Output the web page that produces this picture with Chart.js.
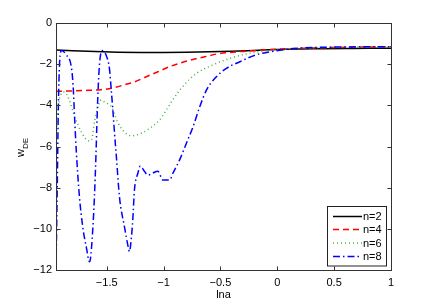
<!DOCTYPE html>
<html>
<head>
<meta charset="utf-8">
<script src="https://cdn.jsdelivr.net/npm/chart.js@4/dist/chart.umd.min.js"></script>
<style>
html,body{margin:0;padding:0;background:#fff;}
#wrap{width:432px;height:305px;position:relative;}
</style>
</head>
<body>
<div id="wrap"><canvas id="c" width="432" height="305"></canvas></div>
<script>
// ---- data ----
const seriesLabels = ['n=2', 'n=4', 'n=6', 'n=8'];
const xTickValues = [-1.5, -1, -0.5, 0, 0.5, 1];
const yTickValues = [-12, -10, -8, -6, -4, -2, 0];
const xMin = -1.946, xMax = 1, yMin = -12, yMax = 0;

const n2X = [-1.946,-1.8,-1.6,-1.4,-1.2,-1.0,-0.8,-0.6,-0.4,-0.2,0,0.2,0.4,0.6,0.8,1.0];
const n2Y = [-1.31,-1.35,-1.39,-1.42,-1.43,-1.43,-1.42,-1.40,-1.37,-1.33,-1.29,-1.26,-1.25,-1.24,-1.23,-1.23];

const n4X = [-1.946,-1.7,-1.55,-1.45,-1.33,-1.256,-1.152,-1.05,-0.947,-0.844,-0.742,-0.638,-0.535,-0.418,-0.303,-0.1,0.2,0.5,1.0];
const n4Y = [-3.32,-3.28,-3.24,-3.16,-2.98,-2.86,-2.61,-2.37,-2.12,-1.93,-1.77,-1.64,-1.51,-1.43,-1.38,-1.30,-1.23,-1.19,-1.15];

const n6X = [-1.946,-1.93,-1.905,-1.875,-1.829,-1.785,-1.723,-1.661,-1.635,-1.608,-1.573,-1.547,-1.52,-1.458,-1.405,-1.344,-1.282,-1.194,-1.123,-1.035,-0.976,-0.920,-0.832,-0.711,-0.568,-0.418,-0.241,-0.153,0,0.3,0.6,1.0];
const n6Y = [-5.8,-4.3,-3.5,-3.35,-3.74,-4.5,-5.3,-5.72,-5.7,-4.8,-4.0,-3.74,-3.84,-4.08,-4.8,-5.3,-5.48,-5.35,-5.12,-4.71,-4.23,-3.74,-3.09,-2.45,-2.04,-1.72,-1.47,-1.39,-1.3,-1.21,-1.17,-1.15];

const n8X = [-1.946,-1.935,-1.925,-1.915,-1.905,-1.899,-1.855,-1.811,-1.796,-1.782,-1.767,-1.740,-1.711,-1.679,-1.652,-1.644,-1.623,-1.608,-1.595,-1.585,-1.574,-1.562,-1.540,-1.505,-1.476,-1.461,-1.447,-1.432,-1.415,-1.388,-1.344,-1.310,-1.300,-1.290,-1.271,-1.256,-1.226,-1.205,-1.175,-1.138,-1.100,-1.050,-1.006,-0.947,-0.918,-0.859,-0.800,-0.741,-0.682,-0.623,-0.535,-0.447,-0.329,-0.189,-0.012,0.19,0.5,1.0];
const n8Y = [-12,-8,-4,-2,-1.4,-1.33,-1.55,-2.14,-3.0,-4.65,-6.27,-8.44,-9.9,-10.9,-11.6,-11.5,-10.06,-8.44,-6.5,-4.65,-3.03,-1.9,-1.34,-1.57,-2.22,-3.19,-4.16,-5.3,-6.5,-8.44,-9.9,-10.9,-11.1,-10.8,-9.57,-8.1,-7.3,-6.95,-7.15,-7.39,-7.3,-7.2,-7.63,-7.63,-7.3,-6.65,-5.85,-5.04,-4.07,-3.26,-2.61,-2.2,-1.88,-1.55,-1.35,-1.22,-1.17,-1.15];

const seriesX = [n2X, n4X, n6X, n8X];
const seriesY = [n2Y, n4Y, n6Y, n8Y];
const seriesColors = ['#000000', '#ff0000', '#44b044', '#0000ff'];
const seriesDash = [[], [6, 4], [1, 3], [7, 3, 1.5, 3]];

const toPts = (xs, ys) => xs.map((x, i) => ({x: x, y: ys[i]}));
const fmt = v => String(v).replace('-', '\u2212');

const datasets = seriesLabels.map((lab, i) => ({
  label: lab,
  data: toPts(seriesX[i], seriesY[i]),
  borderColor: seriesColors[i],
  backgroundColor: seriesColors[i],
  borderWidth: 1.5,
  borderDash: seriesDash[i],
  pointRadius: 0,
  fill: false,
  cubicInterpolationMode: 'monotone',
  order: 3 - i
}));

const FONT = '"Liberation Sans", Arial, Helvetica, sans-serif';

const framePlugin = {
  id: 'frame',
  afterDraw(chart) {
    const ctx = chart.ctx;
    const a = chart.chartArea;
    const xs = chart.scales.x, ys = chart.scales.y;
    ctx.save();
    ctx.strokeStyle = '#333';
    ctx.lineWidth = 1;
    const L = Math.round(a.left) + 0.5, R = Math.round(a.right) + 0.5;
    const T = Math.round(a.top) + 0.5, B = Math.round(a.bottom) + 0.5;
    ctx.strokeRect(L, T, R - L, B - T);
    ctx.beginPath();
    const tl = 4;
    xTickValues.forEach(v => {
      const px = Math.round(xs.getPixelForValue(v)) + 0.5;
      ctx.moveTo(px, B); ctx.lineTo(px, B - tl);
      ctx.moveTo(px, T); ctx.lineTo(px, T + tl);
    });
    yTickValues.forEach(v => {
      const py = Math.round(ys.getPixelForValue(v)) + 0.5;
      ctx.moveTo(L, py); ctx.lineTo(L + tl, py);
      ctx.moveTo(R, py); ctx.lineTo(R - tl, py);
    });
    ctx.stroke();

    // legend box
    const lx = 327.5, ly = 206.5, lw = 59, lh = 59.5;
    ctx.fillStyle = '#fff';
    ctx.fillRect(lx, ly, lw, lh);
    ctx.strokeStyle = '#222';
    ctx.strokeRect(lx, ly, lw, lh);
    const rows = [216.5, 229.5, 243, 256.5];
    chart.data.datasets.forEach((ds, i) => {
      const y = rows[i];
      ctx.save();
      ctx.strokeStyle = ds.borderColor;
      ctx.lineWidth = 1.5;
      ctx.setLineDash(ds.borderDash);
      ctx.beginPath();
      ctx.moveTo(333, y); ctx.lineTo(362, y);
      ctx.stroke();
      ctx.restore();
      ctx.fillStyle = '#000';
      ctx.font = '11px ' + FONT;
      ctx.textAlign = 'left';
      ctx.textBaseline = 'middle';
      ctx.fillText(ds.label, 363, y + 0.5);
    });

    // axis titles
    ctx.fillStyle = '#000';
    ctx.font = '11px ' + FONT;
    ctx.textAlign = 'center';
    ctx.textBaseline = 'alphabetic';
    ctx.fillText('lna', (a.left + a.right) / 2, 298);

    ctx.save();
    ctx.translate(24, 157);
    ctx.rotate(-Math.PI / 2);
    ctx.textAlign = 'left';
    ctx.font = '11px ' + FONT;
    ctx.fillText('w', 0, 0);
    const ww = ctx.measureText('w').width;
    ctx.font = '8px ' + FONT;
    ctx.fillText('DE', ww, 3.5);
    ctx.restore();
    ctx.restore();
  }
};

new Chart(document.getElementById('c'), {
  type: 'line',
  data: { datasets: datasets },
  options: {
    responsive: false,
    animation: false,
    layout: { padding: { left: 0, right: 41, top: 23, bottom: 0 } },
    plugins: { legend: { display: false }, tooltip: { enabled: false } },
    scales: {
      x: {
        type: 'linear', min: xMin, max: xMax,
        grid: { display: false, drawTicks: false },
        border: { display: false },
        afterBuildTicks: s => { s.ticks = xTickValues.map(v => ({ value: v })); },
        afterFit: s => { s.height = 35; },
        ticks: { color: '#000', padding: 6, maxRotation: 0, autoSkip: false,
                 font: { family: FONT, size: 11 }, callback: v => fmt(v) }
      },
      y: {
        type: 'linear', min: yMin, max: yMax,
        grid: { display: false, drawTicks: false },
        border: { display: false },
        afterBuildTicks: s => { s.ticks = yTickValues.map(v => ({ value: v })); },
        afterFit: s => { s.width = 56; },
        ticks: { color: '#000', padding: 4, autoSkip: false,
                 font: { family: FONT, size: 11 }, callback: v => fmt(v) }
      }
    }
  },
  plugins: [framePlugin]
});
</script>
</body>
</html>
